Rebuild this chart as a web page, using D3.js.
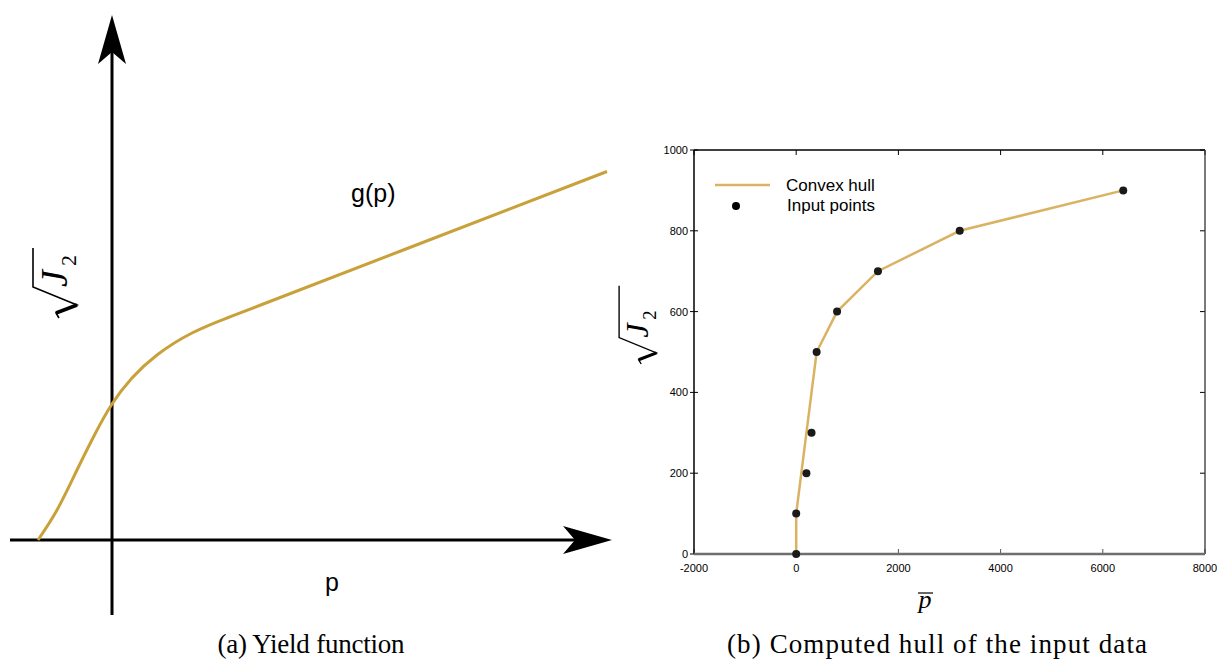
<!DOCTYPE html>
<html>
<head>
<meta charset="utf-8">
<script src="https://cdn.jsdelivr.net/npm/d3@7"></script>
<style>
  html, body { margin: 0; padding: 0; background: #fff; }
  svg { display: block; }
  .tick-label { font-family: "Liberation Sans", Arial, sans-serif; font-size: 11px; fill: #000; }
  .legend-label { font-family: "Liberation Sans", Arial, sans-serif; font-size: 17px; fill: #000; }
  .caption { font-family: "Liberation Serif", "Times New Roman", serif; font-size: 27px; fill: #000; }
  .sans-label { font-family: "Liberation Sans", Arial, sans-serif; font-size: 25px; fill: #000; }
  .math { font-family: "Liberation Serif", "Times New Roman", serif; font-style: italic; fill: #000; }
</style>
</head>
<body>
<svg id="chart" width="1217" height="659"></svg>
<script>
'use strict';

// (a) sketch of the yield function, in arbitrary units
const yieldP = [-0.74, -0.55, -0.35, -0.17, 0, 0.2, 0.45, 0.8, 1.15, 1.5, 2.9, 4.95];
const yieldJ = [0, 0.30, 0.70, 1.06, 1.36, 1.62, 1.85, 2.07, 2.22, 2.355, 2.895, 3.685];

// (b) computed hull and input points
const hullP = [0, 0, 400, 800, 1600, 3200, 6400];
const hullJ = [0, 100, 500, 600, 700, 800, 900];
const inputP = [0, 0, 200, 300, 400, 800, 1600, 3200, 6400];
const inputJ = [0, 100, 200, 300, 500, 600, 700, 800, 900];
const xTicks = [-2000, 0, 2000, 4000, 6000, 8000];
const yTicks = [0, 200, 400, 600, 800, 1000];

const svg = d3.select('#chart');

// draws sqrt(J_2) rotated by -90deg; (ox, oy) is the baseline origin
function drawSqrtJ2(ox, oy, s, bar) {
  const g = svg.append('g')
    .attr('transform', `translate(${ox},${oy}) rotate(-90) scale(${s})`);
  g.append('path')
    .attr('d', `M0,-8 L5,-11 L13,10 L31,-34 L${bar},-34`)
    .attr('fill', 'none').attr('stroke', '#000').attr('stroke-width', 1.6)
    .attr('stroke-linejoin', 'miter');
  g.append('path')
    .attr('d', 'M5,-11 L13,10')
    .attr('stroke', '#000').attr('stroke-width', 3.5);
  g.append('text').attr('class', 'math')
    .attr('x', 31).attr('y', 0).attr('font-size', 38).text('J');
  g.append('text').attr('class', 'math').style('font-style', 'normal')
    .attr('x', 52).attr('y', 9).attr('font-size', 22).text('2');
}

// ---------- panel (a) ----------
(function () {
  const x = d3.scaleLinear().domain([-1, 5]).range([12, 612]);
  const y = d3.scaleLinear().domain([0, 5]).range([540, 40]);

  const arrow = 'M0,0 L-49,-14 L-37,0 L-49,14 Z';

  // horizontal axis
  svg.append('line')
    .attr('x1', x(-1.02)).attr('x2', x(4.65))
    .attr('y1', y(0)).attr('y2', y(0))
    .attr('stroke', '#000').attr('stroke-width', 3);
  svg.append('path').attr('d', arrow)
    .attr('transform', `translate(${x(5)},${y(0)})`);

  // vertical axis
  svg.append('line')
    .attr('x1', x(0)).attr('x2', x(0))
    .attr('y1', y(-0.75)).attr('y2', y(4.9))
    .attr('stroke', '#000').attr('stroke-width', 3);
  svg.append('path').attr('d', arrow)
    .attr('transform', `translate(${x(0)},${y(5.25)}) rotate(-90)`);

  const line = d3.line()
    .x((d, i) => x(yieldP[i]))
    .y((d, i) => y(yieldJ[i]))
    .curve(d3.curveNatural);

  svg.append('path')
    .datum(yieldP)
    .attr('d', line)
    .attr('fill', 'none')
    .attr('stroke', '#c9a13a')
    .attr('stroke-width', 3);

  svg.append('text').attr('class', 'sans-label')
    .attr('x', 351).attr('y', 202).text('g(p)');
  svg.append('text').attr('class', 'sans-label')
    .attr('x', 325).attr('y', 591).text('p');

  drawSqrtJ2(67, 318, 1, 70);

  svg.append('text').attr('class', 'caption')
    .attr('x', 311).attr('y', 653).attr('text-anchor', 'middle')
    .attr('textLength', 187).attr('lengthAdjust', 'spacing')
    .text('(a) Yield function');
})();

// ---------- panel (b) ----------
(function () {
  const x = d3.scaleLinear().domain([-2000, 8000]).range([694, 1205]);
  const y = d3.scaleLinear().domain([0, 1000]).range([554, 150]);

  const frame = svg.append('g');

  // ticks on all four sides
  yTicks.forEach((t) => {
    frame.append('line').attr('x1', x(-2000) - 4).attr('x2', x(-2000) + 4)
      .attr('y1', y(t)).attr('y2', y(t)).attr('stroke', '#000').attr('stroke-width', 1);
    frame.append('line').attr('x1', x(8000) - 5).attr('x2', x(8000))
      .attr('y1', y(t)).attr('y2', y(t)).attr('stroke', '#000').attr('stroke-width', 1);
    frame.append('text').attr('class', 'tick-label')
      .attr('x', x(-2000) - 6).attr('y', y(t) + 4)
      .attr('text-anchor', 'end').text(t);
  });
  xTicks.forEach((t) => {
    frame.append('line').attr('x1', x(t)).attr('x2', x(t))
      .attr('y1', y(1000)).attr('y2', y(1000) + 5).attr('stroke', '#000').attr('stroke-width', 1);
    frame.append('line').attr('x1', x(t)).attr('x2', x(t))
      .attr('y1', y(0)).attr('y2', y(0) - 5).attr('stroke', '#555').attr('stroke-width', 1);
    frame.append('text').attr('class', 'tick-label')
      .attr('x', x(t)).attr('y', y(0) + 18)
      .attr('text-anchor', 'middle').text(t);
  });

  // border
  frame.append('line').attr('x1', x(-2000)).attr('x2', x(8000))
    .attr('y1', y(1000)).attr('y2', y(1000)).attr('stroke', '#000').attr('stroke-width', 1.3);
  frame.append('line').attr('x1', x(8000)).attr('x2', x(8000))
    .attr('y1', y(1000)).attr('y2', y(0)).attr('stroke', '#333').attr('stroke-width', 1.3);
  frame.append('line').attr('x1', x(-2000)).attr('x2', x(-2000))
    .attr('y1', y(1000)).attr('y2', y(0)).attr('stroke', '#000').attr('stroke-width', 1.5);
  frame.append('line').attr('x1', x(-2000)).attr('x2', x(8000))
    .attr('y1', y(0)).attr('y2', y(0)).attr('stroke', '#6e6e6e').attr('stroke-width', 2.5);

  const hullLine = d3.line()
    .x((d, i) => x(hullP[i]))
    .y((d, i) => y(hullJ[i]));

  svg.append('path')
    .datum(hullP)
    .attr('d', hullLine)
    .attr('fill', 'none')
    .attr('stroke', '#dab263')
    .attr('stroke-width', 2.5);

  svg.append('g')
    .selectAll('circle')
    .data(inputP)
    .join('circle')
    .attr('cx', (d) => x(d))
    .attr('cy', (d, i) => y(inputJ[i]))
    .attr('r', 4)
    .attr('fill', '#1a1a1a');

  // legend
  const lg = svg.append('g');
  lg.append('line').attr('x1', 715).attr('x2', 770).attr('y1', 185).attr('y2', 185)
    .attr('stroke', '#dab263').attr('stroke-width', 2.5);
  lg.append('text').attr('class', 'legend-label').attr('x', 786).attr('y', 191).text('Convex hull');
  lg.append('circle').attr('cx', 736).attr('cy', 206).attr('r', 4).attr('fill', '#000');
  lg.append('text').attr('class', 'legend-label').attr('x', 787).attr('y', 211).text('Input points');

  drawSqrtJ2(648, 364, 0.85, 92);

  // p-bar label
  svg.append('text').attr('class', 'math')
    .attr('x', 925).attr('y', 608).attr('font-size', 26)
    .attr('text-anchor', 'middle').text('p');
  svg.append('line').attr('x1', 918).attr('x2', 933).attr('y1', 593).attr('y2', 593)
    .attr('stroke', '#000').attr('stroke-width', 1.2);

  svg.append('text').attr('class', 'caption')
    .attr('x', 937).attr('y', 653).attr('text-anchor', 'middle')
    .attr('textLength', 420).attr('lengthAdjust', 'spacing')
    .text('(b) Computed hull of the input data');
})();
</script>
</body>
</html>
